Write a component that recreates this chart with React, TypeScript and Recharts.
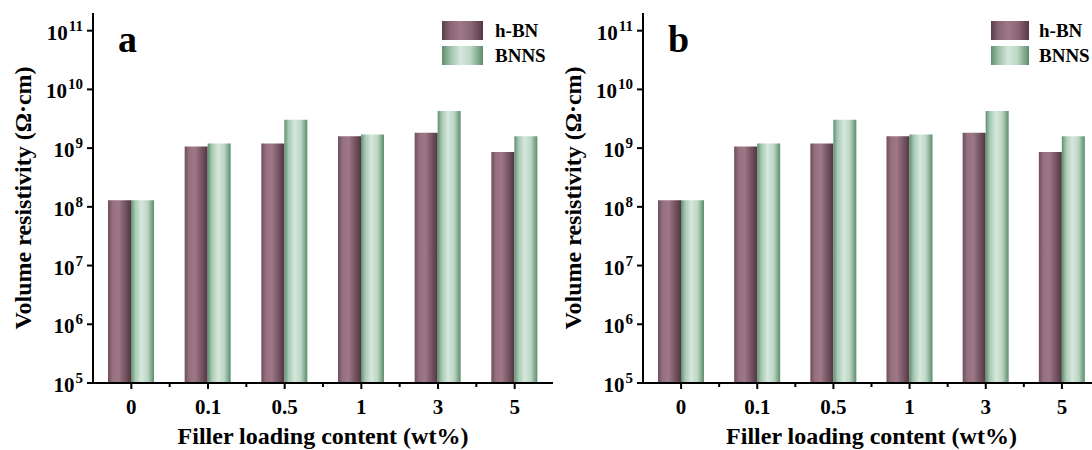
import React from 'react';
import { BarChart, Bar, XAxis, YAxis, Label } from 'recharts';

const categories = ['0', '0.1', '0.5', '1', '3', '5'];
const hBNValues = [1.3e8, 1.07e9, 1.2e9, 1.6e9, 1.83e9, 8.6e8];
const bnnsValues = [1.3e8, 1.2e9, 3.05e9, 1.7e9, 4.27e9, 1.6e9];
const yTicks = [1e5, 1e6, 1e7, 1e8, 1e9, 1e10, 1e11];
const seriesNames = ['h-BN', 'BNNS'];
const panelLetters = ['a', 'b'];

const data = categories.map((c, i) => ({ cat: c, hbn: hBNValues[i], bnns: bnnsValues[i] }));

const FONT = '"Liberation Serif", "Times New Roman", serif';

const YTick = (props: any) => {
  const { x, y, payload } = props;
  const exp = Math.round(Math.log10(payload.value));
  return (
    <text x={x} y={y + 9} textAnchor="end" fontFamily={FONT} fontWeight="bold" fontSize={21} fill="#000">
      <tspan>10</tspan>
      <tspan dx={1} dy={-9} fontSize={15}>{exp}</tspan>
    </text>
  );
};

const makeXTick = (bandWidth: number) => (props: any) => {
  const { x, y, payload, index } = props;
  const axisY = y - 14;
  return (
    <g>
      <text x={x} y={y + 17} textAnchor="middle" fontFamily={FONT} fontWeight="bold" fontSize={21} fill="#000">
        {payload.value}
      </text>
      {index < categories.length - 1 ? (
        <line x1={x + bandWidth / 2} x2={x + bandWidth / 2} y1={axisY} y2={axisY + 4} stroke="#000" strokeWidth={2} />
      ) : null}
    </g>
  );
};

const swatchCss = [
  'linear-gradient(to right, #5a3d49 0%, #8a6674 20%, #9e7886 45%, #8c6876 70%, #553844 100%)',
  'linear-gradient(to right, #5f8f6f 0%, #9cc0a8 20%, #d6e8dc 45%, #bcd6c4 70%, #5c8c6c 100%)',
];

const LegendBox = ({ left, swatchW, gap }: { left: number; swatchW: number; gap: number }) => (
  <div style={{ position: 'absolute', left, top: 21, fontFamily: FONT, fontWeight: 'bold', fontSize: 19, whiteSpace: 'nowrap' }}>
    {seriesNames.map((n, i) => (
      <div key={n} style={{ display: 'flex', alignItems: 'center', height: 19, marginBottom: i === 0 ? 6 : 0 }}>
        <div style={{ width: swatchW, height: 19, background: swatchCss[i] }} />
        <span style={{ marginLeft: gap, lineHeight: '19px', color: '#000' }}>{n}</span>
      </div>
    ))}
  </div>
);

const YTitle = (props: any) => {
  const vb = props.viewBox || {};
  const cx = 31;
  const cy = vb.y + vb.height / 2;
  return (
    <text x={cx} y={cy} transform={`rotate(-90, ${cx}, ${cy})`} textAnchor="middle" fontFamily={FONT} fontWeight="bold" fontSize={24} fill="#000">
      Volume resistivity (Ω·cm)
    </text>
  );
};

const Panel = ({
  id,
  rightMargin,
  letter,
  legendLeft,
  swatchW,
  gap,
}: {
  id: string;
  rightMargin: number;
  letter: string;
  legendLeft: number;
  swatchW: number;
  gap: number;
}) => {
  const width = 560;
  const plotWidth = width - 93 - rightMargin;
  const bw = plotWidth / categories.length;
  return (
    <div style={{ position: 'relative', width, height: 450 }}>
      <BarChart width={width} height={450} data={data} margin={{ top: 13, right: rightMargin, left: 0, bottom: 0 }} barGap={0} barSize={23}>
        <defs>
          <linearGradient id={`${id}-hbn`} x1="0" y1="0" x2="1" y2="0">
            <stop offset="0%" stopColor="#6e4e5c" />
            <stop offset="20%" stopColor="#967080" />
            <stop offset="45%" stopColor="#9e7886" />
            <stop offset="70%" stopColor="#7c5a68" />
            <stop offset="100%" stopColor="#523541" />
          </linearGradient>
          <linearGradient id={`${id}-bnns`} x1="0" y1="0" x2="1" y2="0">
            <stop offset="0%" stopColor="#5f8f6f" />
            <stop offset="18%" stopColor="#a6c8b2" />
            <stop offset="45%" stopColor="#d6e8dc" />
            <stop offset="72%" stopColor="#bcd6c4" />
            <stop offset="100%" stopColor="#5c8c6c" />
          </linearGradient>
        </defs>
        <XAxis
          dataKey="cat"
          height={67}
          axisLine={{ stroke: '#000', strokeWidth: 2 }}
          tickLine={{ stroke: '#000', strokeWidth: 2 }}
          tickSize={6}
          tickMargin={8}
          interval={0}
          tick={makeXTick(bw)}
        >
          <Label value="Filler loading content (wt%)" position="insideBottom" offset={6} style={{ fontFamily: FONT, fontWeight: 'bold', fontSize: 24, fill: '#000' }} />
        </XAxis>
        <XAxis xAxisId="top" dataKey="cat" orientation="top" height={0} tick={false} tickLine={false} axisLine={{ stroke: '#000', strokeWidth: 2 }} />
        <YAxis
          scale="log"
          domain={[1e5, 2e11]}
          allowDataOverflow
          ticks={yTicks}
          width={93}
          axisLine={{ stroke: '#000', strokeWidth: 2 }}
          tickLine={{ stroke: '#000', strokeWidth: 2 }}
          tickSize={6}
          tickMargin={4}
          tick={<YTick />}
          interval={0}
        >
          <Label content={<YTitle />} />
        </YAxis>
        <YAxis yAxisId="right" orientation="right" width={0} domain={[0, 1]} tick={false} tickLine={false} axisLine={{ stroke: '#000', strokeWidth: 2 }} />
        <Bar dataKey="hbn" name={seriesNames[0]} fill={`url(#${id}-hbn)`} isAnimationActive={false} />
        <Bar dataKey="bnns" name={seriesNames[1]} fill={`url(#${id}-bnns)`} isAnimationActive={false} />
      </BarChart>
      <LegendBox left={legendLeft} swatchW={swatchW} gap={gap} />
      <div
        style={{
          position: 'absolute',
          left: 118,
          top: 20,
          fontFamily: FONT,
          fontWeight: 'bold',
          fontSize: 38,
          lineHeight: '38px',
          color: '#000',
        }}
      >
        {letter}
      </div>
    </div>
  );
};

export default function App() {
  return (
    <div style={{ position: 'absolute', left: 0, top: 0, width: 1092, height: 450, overflow: 'hidden', background: '#fff' }}>
      <div style={{ position: 'absolute', left: 0, top: 0 }}>
        <Panel id="pa" rightMargin={7} letter={panelLetters[0]} legendLeft={442} swatchW={41} gap={12} />
      </div>
      <div style={{ position: 'absolute', left: 550, top: 0 }}>
        <Panel id="pb" rightMargin={10} letter={panelLetters[1]} legendLeft={441} swatchW={38} gap={10} />
      </div>
    </div>
  );
}
